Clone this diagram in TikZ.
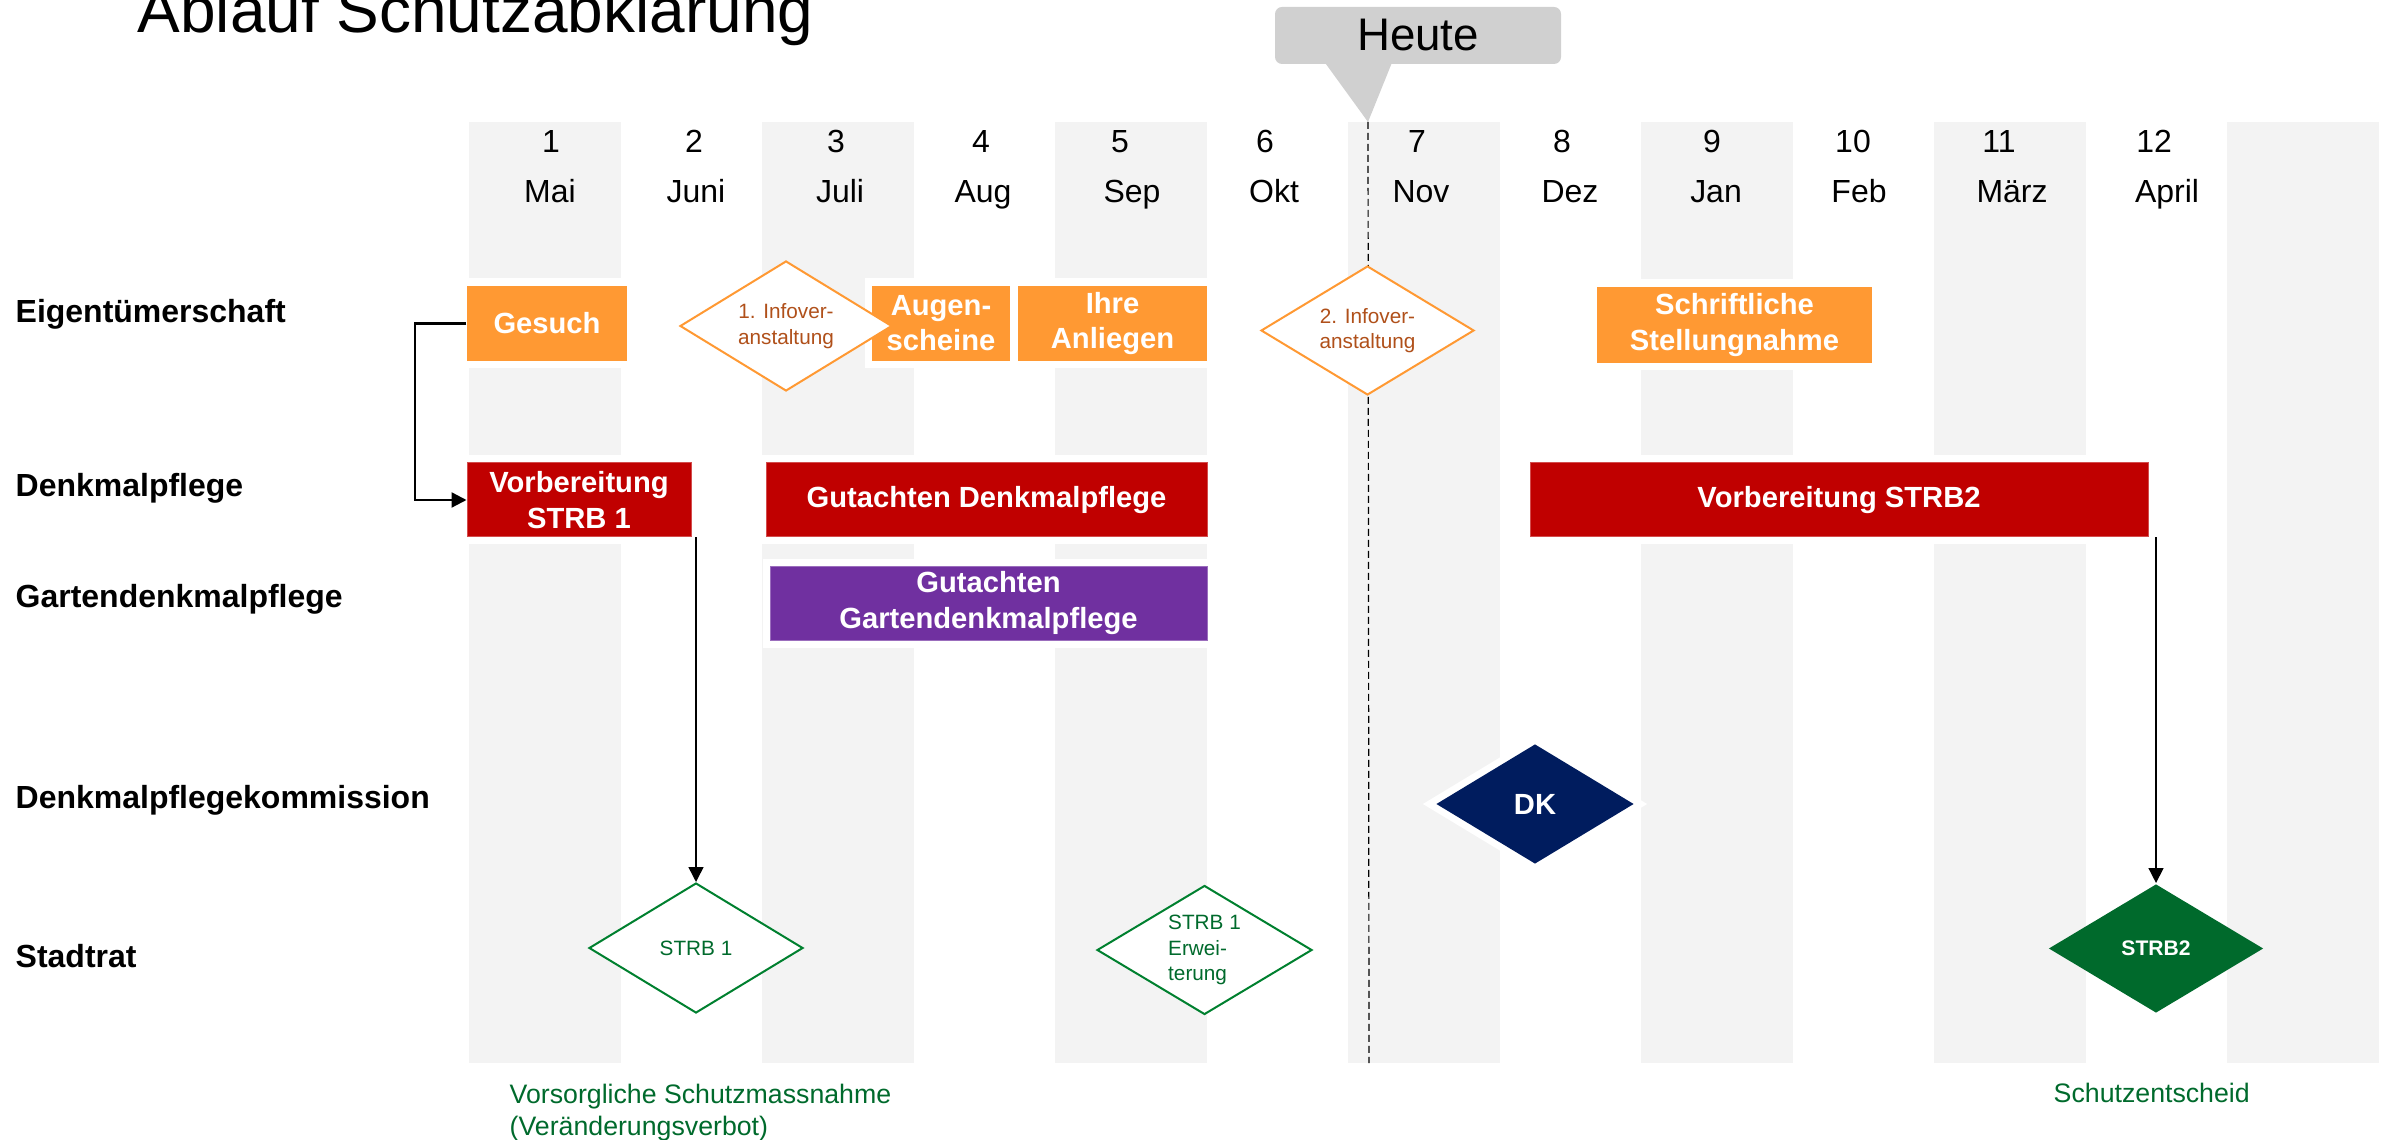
\documentclass[tikz,border=0pt]{standalone}
\usepackage{fontspec}
\setmainfont{Liberation Sans}
\usepackage{tikz}
\usetikzlibrary{shapes.geometric, arrows.meta, calc}
\usepackage{xcolor}
\definecolor{stripe}{HTML}{F3F3F3}
\definecolor{owner}{HTML}{FF9933}
\definecolor{infotext}{HTML}{B0501A}
\definecolor{dp}{HTML}{C00000}
\definecolor{garden}{HTML}{7030A0}
\definecolor{dk}{HTML}{001C5E}
\definecolor{council}{HTML}{006A2C}
\definecolor{councilline}{HTML}{00802F}
\definecolor{callout}{HTML}{D0D0D0}
\tikzstyle{bar} = [rectangle, inner sep=0pt, text centered, align=center, text=white, font=\fontsize{8.3}{10}\selectfont\bfseries, minimum height=7.5mm, preaction={draw=white, line width=1.5mm}]
\tikzstyle{milestone} = [diamond, aspect=1.65, inner sep=0pt, align=center, minimum width=21.4mm, minimum height=13mm, line width=0.2mm, font=\fontsize{5.9}{7.25}\selectfont]
\tikzstyle{lane} = [anchor=base west, inner sep=0pt, font=\fontsize{9.1}{11}\selectfont\bfseries]
\tikzstyle{month} = [anchor=base, inner sep=0pt, font=\fontsize{9.1}{11}\selectfont]
\tikzstyle{note} = [inner sep=0pt, text=council, align=left, font=\fontsize{7.6}{9.1}\selectfont]
\tikzstyle{arrow} = [line width=0.15mm, -{Triangle[length=1.5mm, width=1.5mm]}]

\begin{document}
\begin{tikzpicture}[x=0.1mm, y=-0.1mm]
    \useasboundingbox (0,0) rectangle (2392,1140);

    % grey stripes behind every second month
    \foreach \i in {0,...,6}
        \fill [stripe] (469+293*\i,122) rectangle ++(152,941);

    \node (title) [anchor=base west, inner sep=0pt, font=\fontsize{18.2}{22}\selectfont] at (137,33) {Ablauf Schutzabklärung};

    % month header: number x / name x / name
    \foreach \a/\b/\m [count=\i] in {551/550/Mai, 694/696/Juni, 836/840/Juli, 981/983/Aug, 1120/1132/Sep, 1265/1274/Okt,
                                     1417/1421/Nov, 1562/1570/Dez, 1712/1716/Jan, 1853/1859/Feb, 1999/2012/März, 2154/2167/April} {
        \node (num\i) [month] at (\a,153) {\i};
        \node (mon\i) [month] at (\b,203) {\m};
    }

    % today marker
    \coordinate (today) at (1368,122);
    \coordinate (todayend) at (1369,1063);
    \node (heute) [fill=callout, rounded corners=0.7mm, minimum width=28.6mm, minimum height=5.7mm, inner sep=0pt, font=\fontsize{13}{15}\selectfont] at (1418,35.5) {Heute};
    \fill [callout] (1323,60) -- (today) -- (1393,60) -- cycle;
    \draw [dash pattern=on 0.7mm off 0.4mm, line width=0.12mm] (today) -- (todayend);

    % lanes
    \node (eig) [lane] at (15,323) {Eigentümerschaft};
    \node (dpf) [lane] at (15,497) {Denkmalpflege};
    \node (gdp) [lane] at (15,607) {Gartendenkmalpflege};
    \node (dkl) [lane] at (15,808) {Denkmalpflegekommission};
    \node (str) [lane] at (15,967) {Stadtrat};

    % Eigentümerschaft
    \node (gesuch) [bar, fill=owner, minimum width=16mm] at (547,323.5) {Gesuch};
    \node (augen) [bar, fill=owner, minimum width=13.8mm] at (941,323.5) {Augen-\\scheine};
    \node (anliegen) [bar, fill=owner, minimum width=18.9mm] at (1112.5,323.5) {Ihre\\Anliegen};
    \node (stellung) [bar, fill=owner, minimum width=27.5mm, minimum height=7.6mm] at (1734.5,325) {Schriftliche\\Stellungnahme};
    \node (info1) [milestone, draw=owner, fill=white, text=infotext, minimum width=21.2mm] at (786,326) {1. Infover-\\anstaltung};
    \node (info2) [milestone, draw=owner, fill=white, text=infotext, minimum width=21.3mm, minimum height=12.9mm] at (1367.5,330.5) {2. Infover-\\anstaltung};

    % Denkmalpflege / Gartendenkmalpflege
    \node (vorb1) [bar, fill=dp, draw=dp!70!white, line width=0.1mm, minimum width=22.4mm, minimum height=7.4mm] at (579,500) {Vorbereitung\\STRB 1};
    \node (gutachten) [bar, fill=dp, draw=dp!70!white, line width=0.1mm, minimum width=44.1mm, minimum height=7.4mm] at (986.5,500) {Gutachten Denkmalpflege};
    \node (vorb2) [bar, fill=dp, draw=dp!70!white, line width=0.1mm, minimum width=61.8mm, minimum height=7.4mm] at (1839,500) {Vorbereitung STRB2};
    \node (garten) [bar, fill=garden, draw=garden!70!white, line width=0.1mm, minimum width=43.7mm, minimum height=7.4mm] at (988.5,603) {Gutachten\\Gartendenkmalpflege};

    % Kommission and Stadtrat
    \node (dk) [milestone, fill=dk, text=white, font=\fontsize{8.3}{9.8}\selectfont\bfseries, minimum width=19.8mm, minimum height=12mm, preaction={draw=white, line width=1.4mm}] at (1535,804) {DK};
    \node (strb1) [milestone, draw=councilline, fill=white, text=council] at (696,948) {STRB 1};
    \node (strb1e) [milestone, draw=councilline, fill=white, text=council, align=left, minimum width=21.5mm, minimum height=12.9mm] at (1204.5,950) {STRB 1\\Erwei-\\terung};
    \node (strb2) [milestone, fill=council, text=white, font=\fontsize{6}{7.25}\selectfont\bfseries, minimum width=21.5mm, minimum height=12.9mm] at (2156,948.5) {STRB2};

    \node (vorsorge) [note, anchor=north west] at (509,1083) {Vorsorgliche Schutzmassnahme\\(Veränderungsverbot)};
    \node (entscheid) [note, anchor=base west] at (2053,1102) {Schutzentscheid};

    % connectors
    \draw [arrow, line width=0.23mm] (gesuch.west) -- ++(-51,0) |- (vorb1.west);
    \foreach \i/\j in {vorb1/strb1, vorb2/strb2} {
        \draw [arrow] (\j.north |- \i.south) -- (\j.north);
    }
\end{tikzpicture}
\end{document}
